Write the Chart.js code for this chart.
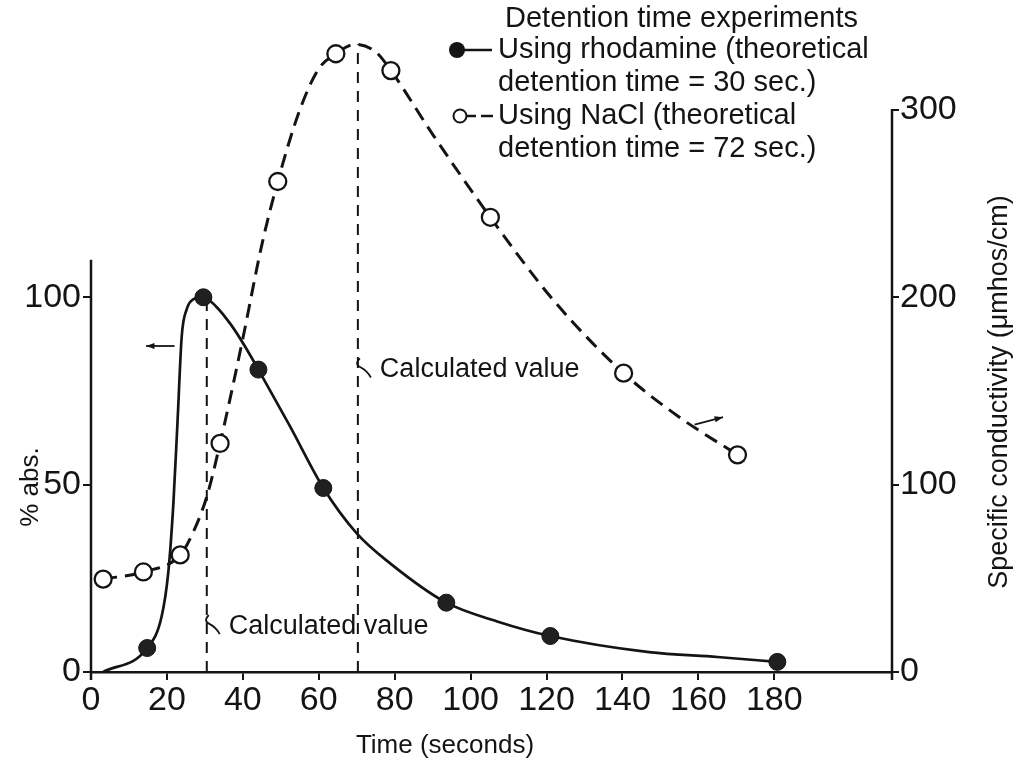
<!DOCTYPE html>
<html>
<head>
<meta charset="utf-8">
<script src="https://cdn.jsdelivr.net/npm/chart.js@4.4.0/dist/chart.umd.min.js"></script>
<style>
  html, body { margin: 0; padding: 0; background: #fff; }
  #wrap { width: 1019px; height: 773px; }
</style>
</head>
<body>
<div id="wrap"><canvas id="chart" width="1019" height="773"></canvas></div>
<script>
  'use strict';

  // Axis ticks
  const timeTicks = [0, 20, 40, 60, 80, 100, 120, 140, 160, 180];
  const absTicks = [0, 50, 100];
  const condTicks = [0, 100, 200, 300];

  const rhodamineTime = [14.8, 29.6, 44.1, 61.2, 93.6, 121, 180.8];
  const rhodamineAbs = [6.4, 100, 80.7, 49.1, 18.5, 9.6, 2.7];
  const naclTime = [3.2, 13.8, 23.5, 34, 49.2, 64.5, 79, 105.2, 140.3, 170.3];
  const naclCond = [49.6, 53.4, 62.5, 122, 261.8, 330, 321, 242.7, 159.5, 115.9];

  // Hand-drawn curves
  const rhodamineCurveTime = [3.2, 14.8, 18.6, 20.4, 21.7, 22.8, 23.9, 25.2, 27, 29.6, 33, 37, 40.5, 44.1, 52.4, 61.2, 70, 78.8, 93.6, 107, 121, 147, 165, 180.8];
  const rhodamineCurveAbs = [0, 6.4, 14.8, 27, 45, 67, 89.6, 96.8, 99.5, 100, 97.5, 92.5, 87, 80.7, 65.6, 49.1, 37, 29, 18.5, 13.5, 9.6, 5.3, 4, 2.7];
  const naclCurveTime = [3.2, 13.8, 23.5, 27, 30.5, 34, 40, 45, 49.2, 55, 60, 64.5, 69.6, 75, 79, 90, 105.2, 122, 140.3, 155, 170.3];
  const naclCurveCond = [49.6, 53.4, 62.5, 75, 93.6, 122, 178, 228, 261.8, 300, 322, 330, 335, 331, 321, 287, 242.7, 198, 159.5, 136, 115.9];

  // Calculated detention times (vertical dashed lines)
  const calcRhodamine = { time: 30.5, abs: [0, 100] };
  const calcNacl = { time: 70.3, cond: [0, 335] };

  const ink = '#141414';
  const fontFamily = '"Liberation Sans", Arial, sans-serif';

  function toPoints(xs, ys) {
    return xs.map((x, i) => ({ x: x, y: ys[i] }));
  }

  function fixedTicks(values) {
    return function(scale) {
      scale.ticks = values.map(v => ({ value: v }));
    };
  }

  // Draws the axis lines, titles, legend, notes and arrows
  const decorations = {
    id: 'decorations',
    afterDraw(chart) {
      const ctx = chart.ctx;
      const x = chart.scales.x;
      const yAbs = chart.scales.yAbs;
      const yCond = chart.scales.yCond;
      const area = chart.chartArea;

      ctx.save();
      ctx.strokeStyle = ink;
      ctx.fillStyle = ink;
      ctx.lineCap = 'butt';

      // left axis line (to ~110 %)
      ctx.lineWidth = 2.5;
      ctx.beginPath();
      ctx.moveTo(area.left, yAbs.getPixelForValue(0) + 8);
      ctx.lineTo(area.left, yAbs.getPixelForValue(110));
      ctx.stroke();

      // right axis line (to 300)
      ctx.beginPath();
      ctx.moveTo(area.right, yCond.getPixelForValue(0) + 8);
      ctx.lineTo(area.right, yCond.getPixelForValue(300) - 1);
      ctx.stroke();

      // axis titles
      ctx.font = '26px ' + fontFamily;
      ctx.textAlign = 'center';
      ctx.textBaseline = 'middle';
      ctx.fillText('Time (seconds)', 445, 746);

      ctx.save();
      ctx.translate(31, 487);
      ctx.rotate(-Math.PI / 2);
      ctx.fillText('% abs.', 0, 0);
      ctx.restore();

      ctx.save();
      ctx.translate(1000, 392);
      ctx.rotate(-Math.PI / 2);
      ctx.font = '27px ' + fontFamily;
      ctx.fillText('Specific conductivity (\u03bcmhos/cm)', 0, 0);
      ctx.restore();

      // legend
      ctx.textAlign = 'left';
      ctx.font = '29px ' + fontFamily;
      ctx.fillText('Detention time experiments', 505, 19);

      ctx.beginPath();
      ctx.arc(457, 50, 8, 0, Math.PI * 2);
      ctx.fill();
      ctx.lineWidth = 2.5;
      ctx.beginPath();
      ctx.moveTo(463, 50);
      ctx.lineTo(492, 50);
      ctx.stroke();
      ctx.fillText('Using rhodamine (theoretical', 498, 50);
      ctx.fillText('detention time = 30 sec.)', 498, 83);

      ctx.lineWidth = 2;
      ctx.beginPath();
      ctx.arc(460, 116, 6.5, 0, Math.PI * 2);
      ctx.stroke();
      ctx.lineWidth = 2.5;
      ctx.beginPath();
      ctx.moveTo(467, 116);
      ctx.lineTo(476, 116);
      ctx.moveTo(481, 116);
      ctx.lineTo(493, 116);
      ctx.stroke();
      ctx.fillText('Using NaCl (theoretical', 498, 116);
      ctx.fillText('detention time = 72 sec.)', 498, 149);

      // "Calculated value" notes with little hooks
      ctx.font = '27px ' + fontFamily;
      function note(px, py) {
        ctx.lineWidth = 1.8;
        ctx.beginPath();
        ctx.moveTo(px + 2, py - 10);
        ctx.quadraticCurveTo(px - 4, py - 4, px + 3, py - 1);
        ctx.quadraticCurveTo(px + 9, py + 2, px + 13, py + 9);
        ctx.stroke();
        ctx.fillText('Calculated value', px + 22, py + 1);
      }
      note(x.getPixelForValue(calcNacl.time), yAbs.getPixelForValue(81));
      note(x.getPixelForValue(calcRhodamine.time), yAbs.getPixelForValue(12.5));

      // arrows pointing to the relevant axis
      function arrow(x1, y1, x2, y2) {
        const a = Math.atan2(y2 - y1, x2 - x1);
        ctx.lineWidth = 1.8;
        ctx.beginPath();
        ctx.moveTo(x1, y1);
        ctx.lineTo(x2, y2);
        ctx.stroke();
        ctx.beginPath();
        ctx.moveTo(x2, y2);
        ctx.lineTo(x2 - 9 * Math.cos(a - 0.35), y2 - 9 * Math.sin(a - 0.35));
        ctx.lineTo(x2 - 9 * Math.cos(a + 0.35), y2 - 9 * Math.sin(a + 0.35));
        ctx.closePath();
        ctx.fill();
      }
      arrow(x.getPixelForValue(22), yAbs.getPixelForValue(87), x.getPixelForValue(14.5), yAbs.getPixelForValue(87));
      arrow(x.getPixelForValue(159), yCond.getPixelForValue(132), x.getPixelForValue(166.5), yCond.getPixelForValue(136));

      ctx.restore();
    }
  };

  const tickFont = { family: fontFamily, size: 34 };

  new Chart(document.getElementById('chart'), {
    type: 'scatter',
    data: {
      datasets: [
        {
          label: 'Rhodamine points',
          data: toPoints(rhodamineTime, rhodamineAbs),
          yAxisID: 'yAbs',
          showLine: false,
          pointRadius: 8.5,
          pointBackgroundColor: '#202020',
          pointBorderColor: ink,
          pointBorderWidth: 1,
          order: 0
        },
        {
          label: 'NaCl points',
          data: toPoints(naclTime, naclCond),
          yAxisID: 'yCond',
          showLine: false,
          pointRadius: 8.5,
          pointBackgroundColor: '#fff',
          pointBorderColor: ink,
          pointBorderWidth: 2.3,
          order: 1
        },
        {
          label: 'Rhodamine curve',
          data: toPoints(rhodamineCurveTime, rhodamineCurveAbs),
          yAxisID: 'yAbs',
          showLine: true,
          pointRadius: 0,
          borderColor: ink,
          borderWidth: 2.7,
          cubicInterpolationMode: 'monotone',
          order: 2
        },
        {
          label: 'NaCl curve',
          data: toPoints(naclCurveTime, naclCurveCond),
          yAxisID: 'yCond',
          showLine: true,
          pointRadius: 0,
          borderColor: ink,
          borderWidth: 3,
          borderDash: [14, 8],
          cubicInterpolationMode: 'monotone',
          order: 3
        },
        {
          label: 'Calculated (rhodamine)',
          data: calcRhodamine.abs.map(v => ({ x: calcRhodamine.time, y: v })),
          yAxisID: 'yAbs',
          showLine: true,
          pointRadius: 0,
          borderColor: ink,
          borderWidth: 2,
          borderDash: [11, 8],
          order: 4
        },
        {
          label: 'Calculated (NaCl)',
          data: calcNacl.cond.map(v => ({ x: calcNacl.time, y: v })),
          yAxisID: 'yCond',
          showLine: true,
          pointRadius: 0,
          borderColor: ink,
          borderWidth: 2,
          borderDash: [11, 8],
          order: 5
        }
      ]
    },
    options: {
      responsive: false,
      animation: false,
      layout: { padding: { top: 35, left: 0, right: 0, bottom: 0 } },
      plugins: {
        legend: { display: false },
        tooltip: { enabled: false }
      },
      scales: {
        x: {
          type: 'linear',
          position: 'bottom',
          min: 0,
          max: 211,
          afterBuildTicks: fixedTicks(timeTicks),
          afterFit: scale => { scale.height = 101; },
          border: { display: true, color: ink, width: 2.5 },
          grid: { drawOnChartArea: false, drawTicks: true, tickLength: 8, color: ink, lineWidth: 2 },
          ticks: { color: ink, font: tickFont, padding: 0, maxRotation: 0 }
        },
        yAbs: {
          type: 'linear',
          position: 'left',
          min: 0,
          max: 170,
          afterBuildTicks: fixedTicks(absTicks),
          afterFit: scale => { scale.width = 91; },
          border: { display: false },
          grid: { drawOnChartArea: false, drawTicks: true, tickLength: 8, color: ink, lineWidth: 2 },
          ticks: { color: ink, font: tickFont, padding: 2 }
        },
        yCond: {
          type: 'linear',
          position: 'right',
          min: 0,
          max: 340,
          afterBuildTicks: fixedTicks(condTicks),
          afterFit: scale => { scale.width = 127; },
          border: { display: false },
          grid: { drawOnChartArea: false, drawTicks: true, tickLength: 7, color: ink, lineWidth: 2 },
          ticks: { color: ink, font: tickFont, padding: 1 }
        }
      }
    },
    plugins: [decorations]
  });
</script>
</body>
</html>
